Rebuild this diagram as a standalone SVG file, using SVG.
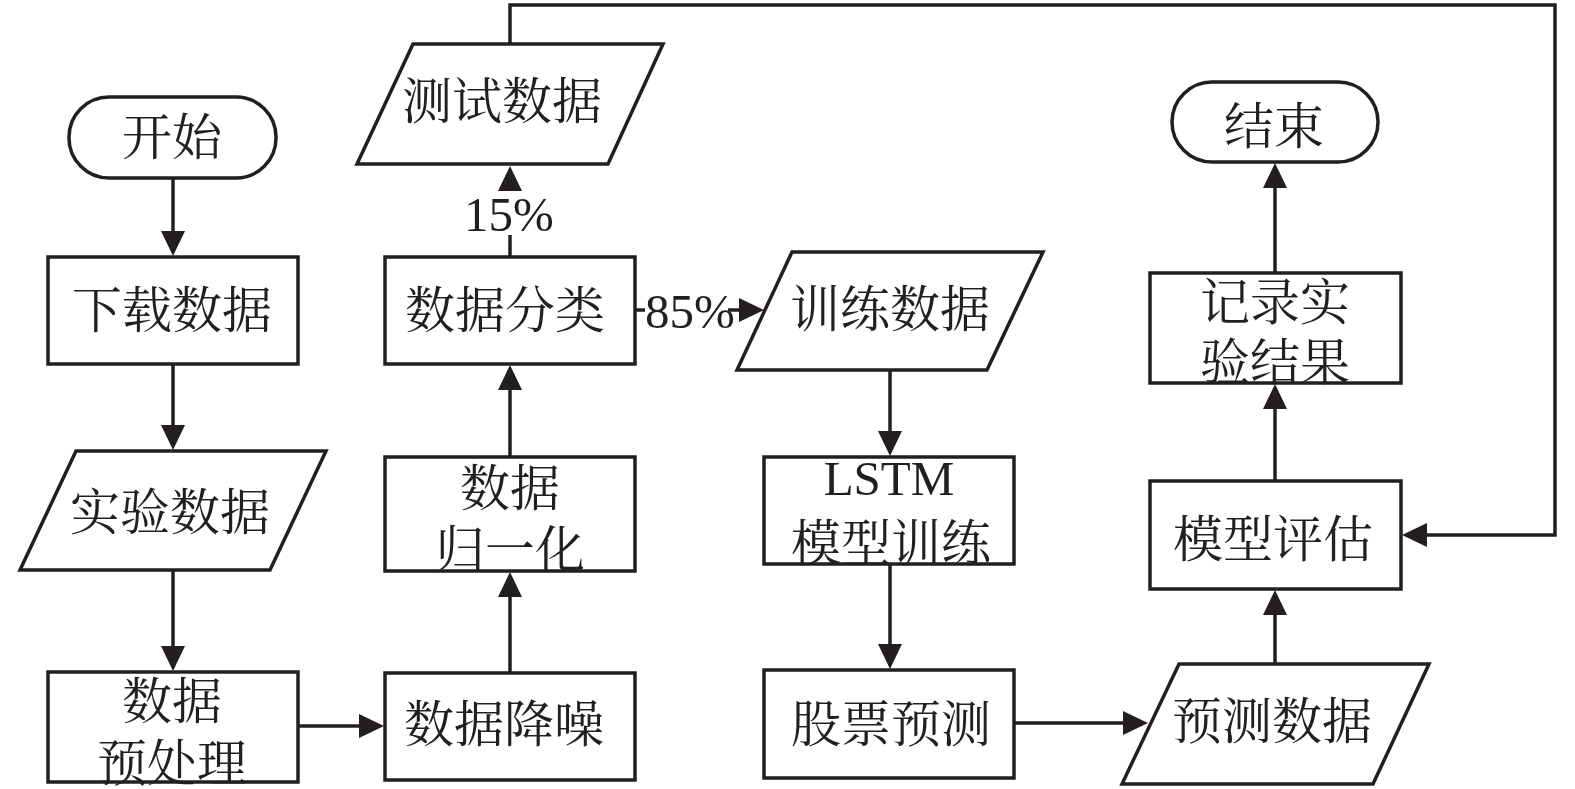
<svg xmlns="http://www.w3.org/2000/svg" width="1575" height="789" viewBox="0 0 1575 789">
<style>
.shape{fill:#ffffff;stroke:#231f20;stroke-width:3.5}
.cn{font-family:"Noto Serif CJK SC","Noto Sans CJK SC",sans-serif;font-size:50px;fill:#231f20;text-anchor:middle;dominant-baseline:central}
.lat{font-family:"Liberation Serif",serif;font-size:49px;fill:#231f20;text-anchor:middle}
.con{fill:none;stroke:#231f20;stroke-width:3.5}
</style>
<defs>
<marker id="arr" markerUnits="userSpaceOnUse" markerWidth="26" markerHeight="24" refX="21" refY="12" orient="auto">
<path d="M0,0 L25,12 L0,24 Z" fill="#231f20"/>
</marker>
</defs>
<rect width="1575" height="789" fill="#ffffff"/>
<g id="connectors">
<path class="con" d="M173,178 V252" marker-end="url(#arr)"/>
<path class="con" d="M173,364 V446" marker-end="url(#arr)"/>
<path class="con" d="M173,570 V667" marker-end="url(#arr)"/>
<path class="con" d="M298,726 H380" marker-end="url(#arr)"/>
<path class="con" d="M510,673 V576" marker-end="url(#arr)"/>
<path class="con" d="M510,457 V369" marker-end="url(#arr)"/>
<path class="con" d="M510,257 V235"/>
<path class="con" d="M510,190 V170" marker-end="url(#arr)"/>
<path class="con" d="M635,310 H645"/>
<path class="con" d="M728,310 H760" marker-end="url(#arr)"/>
<path class="con" d="M890,370 V452" marker-end="url(#arr)"/>
<path class="con" d="M890,564 V665" marker-end="url(#arr)"/>
<path class="con" d="M1014,723 H1144" marker-end="url(#arr)"/>
<path class="con" d="M1275,664 V594" marker-end="url(#arr)"/>
<path class="con" d="M1275,481 V388" marker-end="url(#arr)"/>
<path class="con" d="M1275,273 V167" marker-end="url(#arr)"/>
<path class="con" d="M510,44 V5 H1555 V535 H1406" marker-end="url(#arr)"/>
<text class="lat" x="509" y="231">15%</text>
<text class="lat" x="690" y="328">85%</text>
</g>
<g id="start">
<rect class="shape" x="69" y="97" width="207" height="81" rx="40"/>
<text class="cn" x="172" y="133">开始</text>
</g>
<g id="download">
<rect class="shape" x="48" y="257" width="250" height="107"/>
<text class="cn" x="172" y="306">下载数据</text>
</g>
<g id="expdata">
<polygon class="shape" points="76,451 326,451 270,570 20,570"/>
<text class="cn" x="170" y="508">实验数据</text>
</g>
<g id="preprocess">
<rect class="shape" x="48" y="672" width="250" height="110"/>
<text class="cn" x="172" y="697">数据</text>
<text class="cn" x="172" y="759">预处理</text>
</g>
<g id="denoise">
<rect class="shape" x="385" y="673" width="250" height="107"/>
<text class="cn" x="504" y="720">数据降噪</text>
</g>
<g id="normalize">
<rect class="shape" x="385" y="457" width="250" height="114"/>
<text class="cn" x="510" y="484">数据</text>
<text class="cn" x="510" y="545">归一化</text>
</g>
<g id="classify">
<rect class="shape" x="385" y="257" width="250" height="107"/>
<text class="cn" x="505" y="306">数据分类</text>
</g>
<g id="testdata">
<polygon class="shape" points="413,44 663,44 608,164 357,164"/>
<text class="cn" x="502" y="97">测试数据</text>
</g>
<g id="traindata">
<polygon class="shape" points="792,252 1043,252 987,370 737,370"/>
<text class="cn" x="890" y="305">训练数据</text>
</g>
<g id="lstm">
<rect class="shape" x="764" y="457" width="250" height="107"/>
<text class="lat" x="889" y="495">LSTM</text>
<text class="cn" x="891" y="539">模型训练</text>
</g>
<g id="predict">
<rect class="shape" x="764" y="670" width="250" height="108"/>
<text class="cn" x="891" y="720">股票预测</text>
</g>
<g id="preddata">
<polygon class="shape" points="1179,664 1429,664 1373,784 1122,784"/>
<text class="cn" x="1272" y="717">预测数据</text>
</g>
<g id="evaluate">
<rect class="shape" x="1150" y="481" width="251" height="108"/>
<text class="cn" x="1273" y="535">模型评估</text>
</g>
<g id="record">
<rect class="shape" x="1150" y="273" width="251" height="110"/>
<text class="cn" x="1275" y="298">记录实</text>
<text class="cn" x="1275" y="358">验结果</text>
</g>
<g id="end">
<rect class="shape" x="1172" y="82" width="206" height="80" rx="40"/>
<text class="cn" x="1274" y="122">结束</text>
</g>
</svg>
